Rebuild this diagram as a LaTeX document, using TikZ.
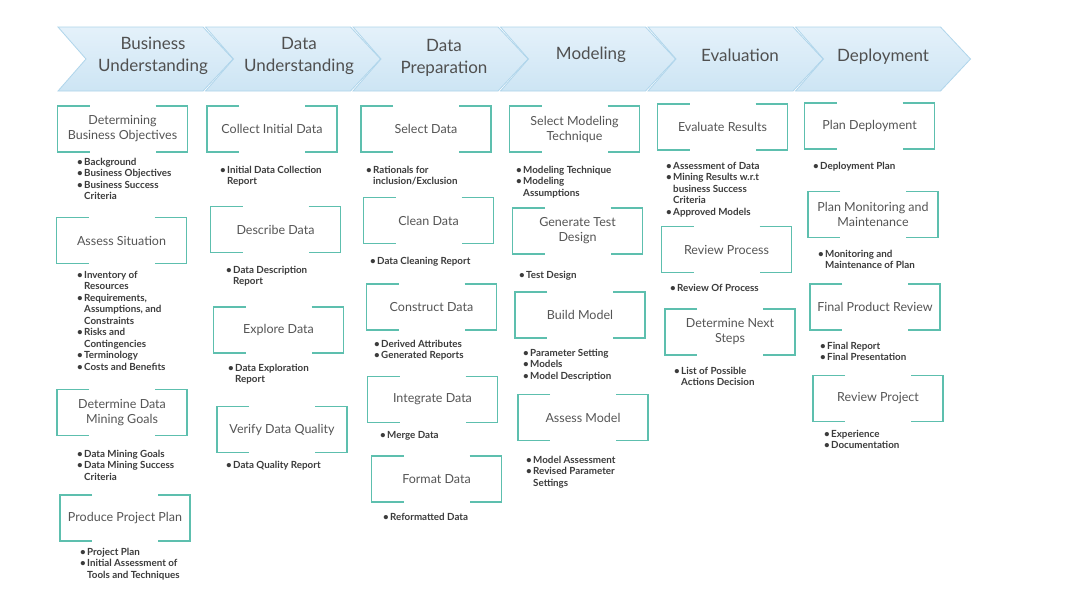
\documentclass[tikz,border=0pt]{standalone}
\usepackage{fontspec}
\setmainfont{Lato}
\usetikzlibrary{positioning}

\definecolor{chevtop}{HTML}{E4F1FA}
\definecolor{chevbot}{HTML}{CDE5F4}
\definecolor{chevline}{HTML}{AFD5EB}
\definecolor{framecol}{HTML}{5DBFAE}
\definecolor{headgray}{HTML}{505050}
\definecolor{taskgray}{HTML}{555555}
\definecolor{listgray}{HTML}{3C3C3C}

\newcommand{\bul}{\makebox[7pt][l]{\textbullet}}
\newcommand{\nxt}{\hspace*{7pt}}

\begin{document}
\begin{tikzpicture}[
    x=1pt, y=-1pt,
    phase/.style={draw=chevline, line width=0.8pt, top color=chevtop, bottom color=chevbot},
    phasetext/.style={font=\fontsize{17}{22}\selectfont, text=headgray, align=center},
    task/.style={minimum width=130pt, minimum height=46pt, inner sep=2pt, outer sep=0pt,
                 align=center, font=\fontsize{12.5}{15}\selectfont, text=taskgray},
    frame/.style={draw=framecol, line width=1.6pt},
    outputs/.style={anchor=north west, align=left, inner sep=0pt,
                    font=\bfseries\fontsize{9.8}{11.5}\selectfont, text=listgray},
]
  \fill[white] (0,0) rectangle (1070,600);
  \useasboundingbox (0,0) rectangle (1070,600);

  % Phase chevrons
  \foreach \i in {0,...,5} {
    \pgfmathsetmacro{\xo}{58+147.5*\i}
    \draw[phase] (\xo,27) -- (\xo+145,27) -- (\xo+175,59) -- (\xo+145,91)
      -- (\xo,91) -- (\xo+28,59) -- cycle;
  }
  \node[phasetext] (bu) at (153,56) {Business\\Understanding};
  \node[phasetext] (du) at (299,56) {Data\\Understanding};
  \node[phasetext] (dp) at (444,58) {Data\\Preparation};
  \node[phasetext] (mo) at (591,55) {Modeling};
  \node[phasetext] (ev) at (740,55) {Evaluation};
  \node[phasetext] (de) at (883,57) {Deployment};

  % Business understanding
  \node[task] (dbo) at (122.5,129) {Determining\\Business Objectives};
  \node[task] (as) at (121.5,240.5) {Assess Situation};
  \node[task] (ddmg) at (122,412.5) {Determine Data\\Mining Goals};
  \node[task] (ppp) at (125,518) {Produce Project Plan};
  \node[outputs] (odbo) at (77,158) {\bul Background\\\bul Business Objectives\\\bul Business Success\\\nxt Criteria};
  \node[outputs] (oas) at (77,271) {\bul Inventory of\\\nxt Resources\\\bul Requirements,\\\nxt Assumptions, and\\\nxt Constraints\\\bul Risks and\\\nxt Contingencies\\\bul Terminology\\\bul Costs and Benefits};
  \node[outputs] (oddmg) at (77,450) {\bul Data Mining Goals\\\bul Data Mining Success\\\nxt Criteria};
  \node[outputs] (oppp) at (80,548) {\bul Project Plan\\\bul Initial Assessment of\\\nxt Tools and Techniques};

  % Data understanding
  \node[task] (cid) at (272,129) {Collect Initial Data};
  \node[task] (dd) at (275.5,229.5) {Describe Data};
  \node[task] (ed) at (278.5,330) {Explore Data};
  \node[task] (vdq) at (282,429.5) {Verify Data Quality};
  \node[outputs] (ocid) at (220,166) {\bul Initial Data Collection\\\nxt Report};
  \node[outputs] (odd) at (226,266) {\bul Data Description\\\nxt Report};
  \node[outputs] (oed) at (228,364) {\bul Data Exploration\\\nxt Report};
  \node[outputs] (ovdq) at (226,461) {\bul Data Quality Report};

  % Data preparation
  \node[task] (sd) at (426,129) {Select Data};
  \node[task] (cd) at (428.5,220.5) {Clean Data};
  \node[task] (cons) at (431.5,307) {Construct Data};
  \node[task] (id) at (432.5,399.5) {Integrate Data};
  \node[task] (fd) at (436.5,479) {Format Data};
  \node[outputs] (osd) at (366,166) {\bul Rationals for\\\nxt inclusion/Exclusion};
  \node[outputs] (ocd) at (370,257) {\bul Data Cleaning Report};
  \node[outputs] (ocons) at (374,340) {\bul Derived Attributes\\\bul Generated Reports};
  \node[outputs] (oid) at (380,431) {\bul Merge Data};
  \node[outputs] (ofd) at (383,513) {\bul Reformatted Data};

  % Modeling
  \node[task] (smt) at (574.5,129) {Select Modeling\\Technique};
  \node[task] (gtd) at (577.5,231) {Generate Test\\Design};
  \node[task] (bm) at (580,315) {Build Model};
  \node[task] (am) at (583,417.5) {Assess Model};
  \node[outputs] (osmt) at (516,166) {\bul Modeling Technique\\\bul Modeling\\\nxt Assumptions};
  \node[outputs] (ogtd) at (519,271) {\bul Test Design};
  \node[outputs] (obm) at (523,349) {\bul Parameter Setting\\\bul Models\\\bul Model Description};
  \node[outputs] (oam) at (526,456) {\bul Model Assessment\\\bul Revised Parameter\\\nxt Settings};

  % Evaluation
  \node[task] (er) at (722.5,127) {Evaluate Results};
  \node[task] (rp) at (726.5,249.5) {Review Process};
  \node[task] (dns) at (730,332) {Determine Next\\Steps};
  \node[outputs] (oer) at (666,162) {\bul Assessment of Data\\\bul Mining Results w.r.t\\\nxt business Success\\\nxt Criteria\\\bul Approved Models};
  \node[outputs] (orp) at (670,284) {\bul Review Of Process};
  \node[outputs] (odns) at (674,367) {\bul List of Possible\\\nxt Actions Decision};

  % Deployment
  \node[task] (pd) at (869.5,126) {Plan Deployment};
  \node[task] (pmm) at (873,214.5) {Plan Monitoring and\\Maintenance};
  \node[task] (fpr) at (875,307) {Final Product Review};
  \node[task] (rpj) at (878,398.5) {Review Project};
  \node[outputs] (opd) at (813,162) {\bul Deployment Plan};
  \node[outputs] (opmm) at (818,250) {\bul Monitoring and\\\nxt Maintenance of Plan};
  \node[outputs] (ofpr) at (820,342) {\bul Final Report\\\bul Final Presentation};
  \node[outputs] (orpj) at (824,430) {\bul Experience\\\bul Documentation};

  % Bracket frames
  \foreach \t in {dbo,as,ddmg,ppp,cid,dd,ed,vdq,sd,cd,cons,id,fd,smt,gtd,bm,am,er,rp,dns,pd,pmm,fpr,rpj} {
    \draw[frame] ([xshift=32pt]\t.north west) -- (\t.north west) -- (\t.south west) -- ([xshift=32pt]\t.south west);
    \draw[frame] ([xshift=-32pt]\t.north east) -- (\t.north east) -- (\t.south east) -- ([xshift=-32pt]\t.south east);
  }

\end{tikzpicture}
\end{document}
